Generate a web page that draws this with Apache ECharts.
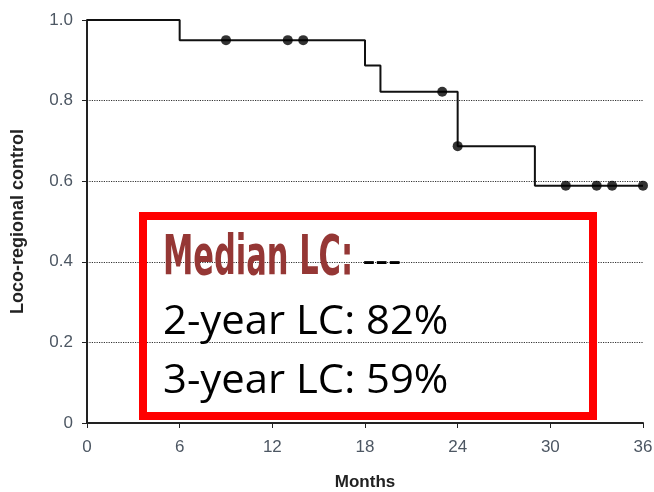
<!DOCTYPE html>
<html><head><meta charset="utf-8">
<script src="https://cdn.jsdelivr.net/npm/echarts@6/dist/echarts.min.js"></script>
<style>html,body{margin:0;padding:0;background:#fff}#c{width:654px;height:492px}</style>
</head><body><div id="c"></div>
<script>
const xTicks = [0, 6, 12, 18, 24, 30, 36];
const yTickLabels = ['0', '0.2', '0.4', '0.6', '0.8', '1.0'];
const stepMonths = [0, 6, 18, 19, 24, 29, 36];
const stepControl = [1.0, 0.95, 0.887, 0.822, 0.687, 0.589, 0.589];
const censorMonths = [9, 13, 14, 23, 24, 31, 33, 34, 36];
const censorControl = [0.95, 0.95, 0.95, 0.822, 0.687, 0.589, 0.589, 0.589, 0.589];
const boxLines = ['Median LC:', ' ---', '2-year LC: 82%', '3-year LC: 59%'];

const chart = echarts.init(document.getElementById('c'));
const labelFont = { fontFamily: '"Liberation Sans Narrow", "Liberation Sans", Arial, sans-serif', fontSize: 17, color: '#4d5763' };
chart.setOption({
  animation: false,
  grid: { left: 87, right: 11, top: 20, bottom: 69, containLabel: false, outerBoundsMode: 'none' },
  xAxis: {
    type: 'value', min: 0, max: 36, interval: 6,
    name: 'Months', nameLocation: 'middle', nameGap: 51,
    nameTextStyle: { fontFamily: '"Liberation Sans", Arial, sans-serif', fontWeight: 'bold', fontSize: 17, color: '#222' },
    axisLine: { show: true, lineStyle: { color: '#222', width: 2 } },
    axisTick: { show: true, length: 5, lineStyle: { color: '#222' } },
    axisLabel: Object.assign({ margin: 16 }, labelFont),
    splitLine: { show: false }
  },
  yAxis: {
    type: 'value', min: 0, max: 1, interval: 0.2,
    name: 'Loco-regional control', nameLocation: 'middle', nameGap: 60, nameRotate: 90,
    nameTextStyle: { fontFamily: '"Liberation Sans", Arial, sans-serif', fontWeight: 'bold', fontSize: 18, color: '#222' },
    axisLine: { show: true, lineStyle: { color: '#222', width: 2 } },
    axisTick: { show: true, length: 5, lineStyle: { color: '#222' } },
    axisLabel: Object.assign({ margin: 14, formatter: function (v) { return yTickLabels[Math.round(v * 5)]; } }, labelFont),
    splitLine: { show: true, showMinLine: false, showMaxLine: false, lineStyle: { type: 'dotted', color: '#333', width: 1.2 } }
  },
  series: [
    {
      type: 'line', step: 'end', symbol: 'none',
      data: stepMonths.map((m, i) => [m, stepControl[i]]),
      lineStyle: { color: '#111', width: 2 }, z: 3
    },
    {
      type: 'scatter', symbol: 'circle', symbolSize: 10,
      data: censorMonths.map((m, i) => [m, censorControl[i]]),
      itemStyle: { color: '#000' }, z: 4
    }
  ],
  graphic: [
    { type: 'rect', left: 139, top: 212, shape: { width: 450, height: 200 }, style: { fill: 'none', stroke: '#ff0000', lineWidth: 8 }, z: 10 },
    { type: 'text', x: 163, y: 287, scaleX: 0.605, style: { text: boxLines[0], fontFamily: '"DejaVu Sans Condensed", "DejaVu Sans", sans-serif', fontWeight: 'bold', fontSize: 56, fill: '#953735', verticalAlign: 'bottom' }, z: 11 },
    { type: 'text', x: 352, y: 242, style: { text: boxLines[1], fontFamily: '"Open Sans", sans-serif', fontSize: 40, fill: '#000', verticalAlign: 'top' }, z: 11 },
    { type: 'text', x: 163, y: 302, scaleX: 1.02, style: { text: boxLines[2], fontFamily: '"Open Sans", sans-serif', fontSize: 41, fill: '#000', verticalAlign: 'top' }, z: 11 },
    { type: 'text', x: 163, y: 361, scaleX: 1.02, style: { text: boxLines[3], fontFamily: '"Open Sans", sans-serif', fontSize: 41, fill: '#000', verticalAlign: 'top' }, z: 11 }
  ]
});
</script></body></html>
